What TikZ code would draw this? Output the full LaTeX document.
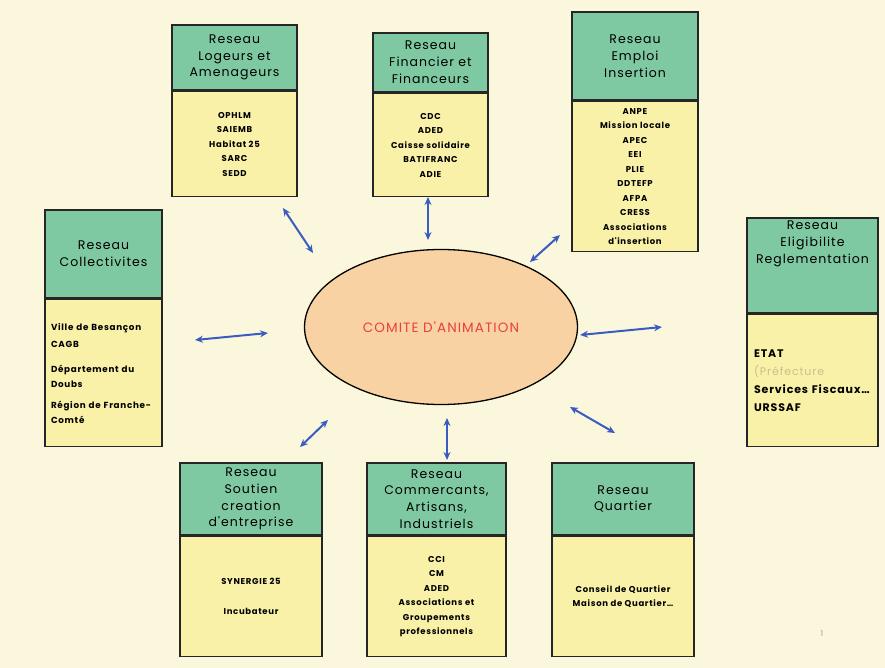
\documentclass[tikz,border=0pt]{standalone}
\usepackage{fontspec}
\setmainfont{Poppins}
\newfontfamily\netfont[LetterSpace=8]{Poppins}
\usetikzlibrary{positioning,shapes.geometric,arrows.meta}
\definecolor{paper}{HTML}{FBF7DC}
\definecolor{headgreen}{HTML}{7FC9A2}
\definecolor{bodyyellow}{HTML}{F9F1A8}
\definecolor{comitefill}{HTML}{F8D2A2}
\definecolor{comitered}{HTML}{E8403A}
\definecolor{linkblue}{HTML}{3A5CC0}
\definecolor{fadetext}{HTML}{CBBE8E}

\begin{document}
\begin{tikzpicture}[x=1pt, y=-1pt, line width=1.6pt,
    head/.style={draw=black!85, fill=headgreen, align=center, inner sep=0pt,
                 font=\netfont\fontsize{12.5}{16.8}\selectfont},
    body/.style={draw=black!85, fill=bodyyellow, align=center, inner sep=0pt,
                 font=\netfont\bfseries\fontsize{8.5}{14.5}\selectfont},
    link/.style={draw=linkblue, line width=2pt,
                 {Stealth[length=8pt,width=7pt]}-{Stealth[length=8pt,width=7pt]}}]

  \fill[paper] (0,0) rectangle (885,668);
  \useasboundingbox (0,0) rectangle (885,668);

  \node[ellipse, draw, line width=1.3pt, fill=comitefill, minimum width=273, minimum height=155,
        text=comitered, font=\netfont\fontsize{13.5}{16}\selectfont] (comite) at (441,327) {COMITE D'ANIMATION};

  \node[head, minimum width=125, minimum height=65] (logH) at (234.5,57.5) {Reseau\\Logeurs et\\Amenageurs};
  \node[body, minimum width=125, minimum height=105] (logB) [below=0pt of logH]
    {OPHLM\\SAIEMB\\Habitat 25\\SARC\\SEDD};

  \node[head, minimum width=115, minimum height=59] (finH) at (430.5,62.5) {Reseau\\Financier et\\Financeurs};
  \node[body, minimum width=115, minimum height=103] (finB) [below=0pt of finH]
    {CDC\\ADED\\Caisse solidaire\\BATIFRANC\\ADIE};

  \node[head, minimum width=126, minimum height=88] (empH) at (635,56) {Reseau\\Emploi\\Insertion};
  \node[body, minimum width=126, minimum height=150] (empB) [below=0pt of empH]
    {ANPE\\Mission locale\\APEC\\EEI\\PLIE\\DDTEFP\\AFPA\\CRESS\\Associations\\d'insertion};

  \node[head, minimum width=117, minimum height=88] (colH) at (103.5,254) {Reseau\\Collectivites};
  \node[body, minimum height=147, text width=105, inner xsep=6pt, align=left,
        font=\netfont\bfseries\fontsize{8.8}{15}\selectfont] (colB) [below=0pt of colH]
    {Ville de Besançon\\[2pt] CAGB\\[10pt] Département du\\Doubs\\[6pt] Région de Franche-\\Comté};

  \node[head, minimum width=131, minimum height=95] (eliH) at (812.5,265.5)
    {Reseau\\Eligibilite\\Reglementation\\[30pt]\mbox{}};
  \node[body, minimum height=132, text width=117, inner xsep=7pt, align=left,
        font=\netfont\bfseries\fontsize{11}{18}\selectfont] (eliB) [below=0pt of eliH]
    {ETAT\\{\mdseries\color{fadetext}(Préfecture}\\Services Fiscaux\ldots\\URSSAF};

  \node[head, minimum width=142, minimum height=72] (souH) at (251,499) {Reseau\\Soutien\\creation\\d'entreprise};
  \node[body, minimum width=142, minimum height=120] (souB) [below=0pt of souH]
    {SYNERGIE 25\\[16pt]Incubateur};

  \node[head, minimum width=139, minimum height=72] (comH) at (436.5,499) {Reseau\\Commercants,\\Artisans,\\Industriels};
  \node[body, minimum width=139, minimum height=120] (comB) [below=0pt of comH]
    {CCI\\CM\\ADED\\Associations et\\Groupements\\professionnels};

  \node[head, minimum width=142, minimum height=72] (quaH) at (623,499) {Reseau\\Quartier};
  \node[body, minimum width=142, minimum height=120] (quaB) [below=0pt of quaH]
    {Conseil de Quartier\\Maison de Quartier\ldots};

  \node[text=black!40, font=\fontsize{8}{10}\selectfont] (page) at (822,634) {1};

  \coordinate (l1) at (283,208); \coordinate (c1) at (313,253);
  \coordinate (l2) at (428,197); \coordinate (c2) at (428,240);
  \coordinate (l3) at (560,235); \coordinate (c3) at (530,262);
  \coordinate (l4) at (195,340); \coordinate (c4) at (268,333);
  \coordinate (l5) at (662,327); \coordinate (c5) at (580,335);
  \coordinate (l6) at (300,447); \coordinate (c6) at (328,420);
  \coordinate (l7) at (447,460); \coordinate (c7) at (447,418);
  \coordinate (l8) at (615,433); \coordinate (c8) at (570,407);

  \foreach \i in {1,...,8}
    \draw[link] (l\i) -- (c\i);
\end{tikzpicture}
\end{document}
